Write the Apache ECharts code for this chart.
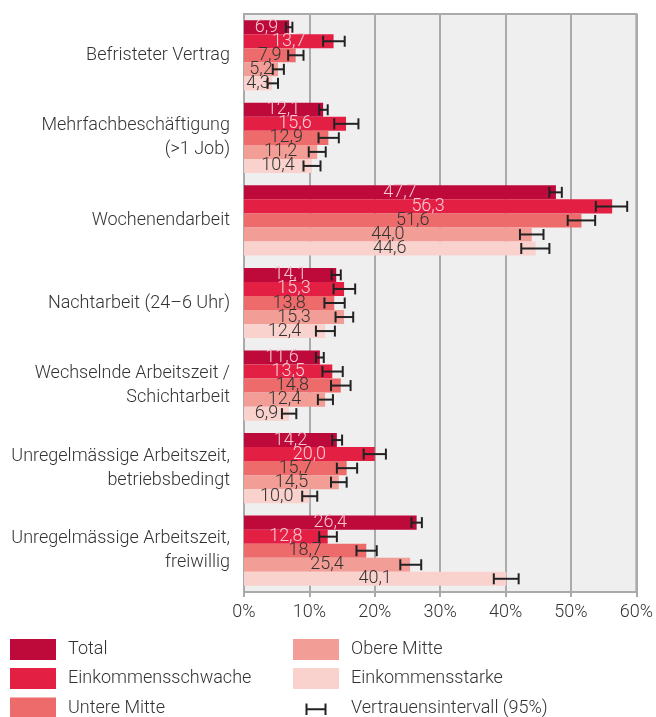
<!DOCTYPE html>
<html>
<head>
<meta charset="utf-8"/>
<title>Arbeitsbedingungen</title>
<script src="https://cdn.jsdelivr.net/npm/echarts@6/dist/echarts.min.js"></script>
<style>
  html, body { margin: 0; padding: 0; background: #fff; }
</style>
</head>
<body>
<div id="main" style="width:656px;height:717px;"></div>
<script type="text/javascript">
// Kategorien (von oben nach unten)
var categories = [
    'Befristeter Vertrag',
    'Mehrfachbeschäftigung\n(>1 Job)',
    'Wochenendarbeit',
    'Nachtarbeit (24–6 Uhr)',
    'Wechselnde Arbeitszeit /\nSchichtarbeit',
    'Unregelmässige Arbeitszeit,\nbetriebsbedingt',
    'Unregelmässige Arbeitszeit,\nfreiwillig'
];
var groupNames = ['Total', 'Einkommensschwache', 'Untere Mitte', 'Obere Mitte', 'Einkommensstarke'];
var ciName = 'Vertrauensintervall (95%)';

// Anteile in %
var total          = [6.9, 12.1, 47.7, 14.1, 11.6, 14.2, 26.4];
var schwache       = [13.7, 15.6, 56.3, 15.3, 13.5, 20.0, 12.8];
var untereMitte    = [7.9, 12.9, 51.6, 13.8, 14.8, 15.7, 18.7];
var obereMitte     = [5.2, 11.2, 44.0, 15.3, 12.4, 14.5, 25.4];
var starke         = [4.3, 10.4, 44.6, 12.4, 6.9, 10.0, 40.1];

// Vertrauensintervalle (unten / oben)
var totalLow    = [6.4, 11.5, 46.7, 13.4, 11.0, 13.5, 25.6];
var totalHigh   = [7.4, 12.8, 48.6, 14.8, 12.2, 15.0, 27.2];
var schwacheLow  = [12.1, 13.8, 53.8, 13.7, 12.0, 18.3, 11.5];
var schwacheHigh = [15.4, 17.5, 58.6, 17.0, 15.1, 21.7, 14.2];
var untereLow   = [6.75, 11.4, 49.5, 12.3, 13.3, 14.2, 17.2];
var untereHigh  = [9.1, 14.5, 53.7, 15.4, 16.3, 17.3, 20.3];
var obereLow    = [4.4, 9.9, 42.2, 14.0, 11.3, 13.3, 23.9];
var obereHigh   = [6.1, 12.5, 45.8, 16.7, 13.6, 15.7, 27.1];
var starkeLow   = [3.6, 9.1, 42.4, 11.0, 5.8, 8.9, 38.2];
var starkeHigh  = [5.2, 11.7, 46.7, 13.9, 8.0, 11.2, 42.0];

var xTicks = [0, 10, 20, 30, 40, 50, 60];

var values = [total, schwache, untereMitte, obereMitte, starke];
var lows = [totalLow, schwacheLow, untereLow, obereLow, starkeLow];
var highs = [totalHigh, schwacheHigh, untereHigh, obereHigh, starkeHigh];
var colors = ['#be0a3b', '#e41f44', '#ee6b6c', '#f39d97', '#f9d2cd'];
var labelColors = ['#f6c6d0', '#f8ccd5', '#333', '#333', '#333'];

var FONT = 'Roboto';
var catGap = 0.15;

var dom = document.getElementById('main');
var myChart = echarts.init(dom);

var series = [];
groupNames.forEach(function (name, s) {
    series.push({
        name: name,
        type: 'bar',
        barGap: 0,
        barCategoryGap: (catGap * 100) + '%',
        itemStyle: { color: colors[s] },
        label: {
            show: true,
            position: 'inside',
            color: labelColors[s],
            fontFamily: FONT,
            fontWeight: 300,
            fontSize: 18,
            formatter: function (p) { return p.value.toFixed(1).replace('.', ','); }
        },
        z: 2,
        data: values[s]
    });
});

// Fehlerbalken
var ciData = [];
for (var s = 0; s < 5; s++) {
    for (var i = 0; i < categories.length; i++) {
        ciData.push([i, lows[s][i], highs[s][i], s]);
    }
}
series.push({
    name: ciName,
    type: 'custom',
    z: 5,
    itemStyle: { color: '#222' },
    encode: { x: [1, 2], y: 0 },
    renderItem: function (params, api) {
        var cat = api.value(0);
        var s = api.value(3);
        var band = api.size([0, 1])[1];
        var bw = band * (1 - catGap) / 5;
        var p0 = api.coord([api.value(1), cat]);
        var p1 = api.coord([api.value(2), cat]);
        var y = p0[1] + (s - 2) * bw;
        var h = 5.5;
        var st = { stroke: '#222', lineWidth: 2, fill: null };
        return {
            type: 'group',
            children: [
                { type: 'line', shape: { x1: p0[0], y1: y, x2: p1[0], y2: y }, style: st },
                { type: 'line', shape: { x1: p0[0], y1: y - h, x2: p0[0], y2: y + h }, style: st },
                { type: 'line', shape: { x1: p1[0], y1: y - h, x2: p1[0], y2: y + h }, style: st }
            ]
        };
    },
    data: ciData
});

var hIcon = 'path://M0,0 M46,21 M12.5,6 h2 v11.5 h-2 z M14.5,10.75 h17 v2 h-17 z M31.5,6 h2 v11.5 h-2 z';

function legendItem(item, left, top) {
    return {
        orient: 'vertical', left: left, top: top, padding: 0,
        itemWidth: 46, itemHeight: 21,
        icon: 'rect',
        selectedMode: false,
        textStyle: { color: '#333', fontFamily: FONT, fontWeight: 300, fontSize: 18,
                     lineHeight: 21, padding: [0, 0, 0, 7] },
        data: [item]
    };
}

option = {
    backgroundColor: '#fff',
    textStyle: { fontFamily: FONT },
    animation: false,
    grid: { left: 244, right: 18, top: 14, bottom: 125, containLabel: false,
            show: true, backgroundColor: '#efefef', borderColor: '#aaa', borderWidth: 2 },
    legend: [
        legendItem(groupNames[0], 10, 639),
        legendItem(groupNames[1], 10, 668),
        legendItem(groupNames[2], 10, 697.5),
        legendItem(groupNames[3], 293, 639),
        legendItem(groupNames[4], 293, 668),
        legendItem({ name: ciName, icon: hIcon, itemStyle: { color: '#222' } }, 293, 697.5)
    ],
    xAxis: {
        type: 'value',
        min: 0, max: 60, interval: 10,
        axisLine: { show: true, lineStyle: { color: '#aaa', width: 2 } },
        axisTick: { show: true, length: 5, lineStyle: { color: '#aaa', width: 2 } },
        splitLine: { show: true, lineStyle: { color: '#aaa', width: 2 } },
        axisLabel: {
            color: '#333', fontFamily: FONT, fontWeight: 300, fontSize: 18, margin: 11,
            formatter: function (v) { return xTicks.indexOf(v) >= 0 ? v + '%' : ''; }
        }
    },
    yAxis: {
        type: 'category',
        inverse: true,
        data: categories,
        axisLine: { show: true, lineStyle: { color: '#aaa', width: 2 } },
        axisTick: { show: false },
        axisLabel: {
            color: '#333', fontFamily: FONT, fontWeight: 300, fontSize: 18,
            lineHeight: 24, margin: 14, align: 'right'
        }
    },
    series: series
};

myChart.setOption(option);
</script>
</body>
</html>
